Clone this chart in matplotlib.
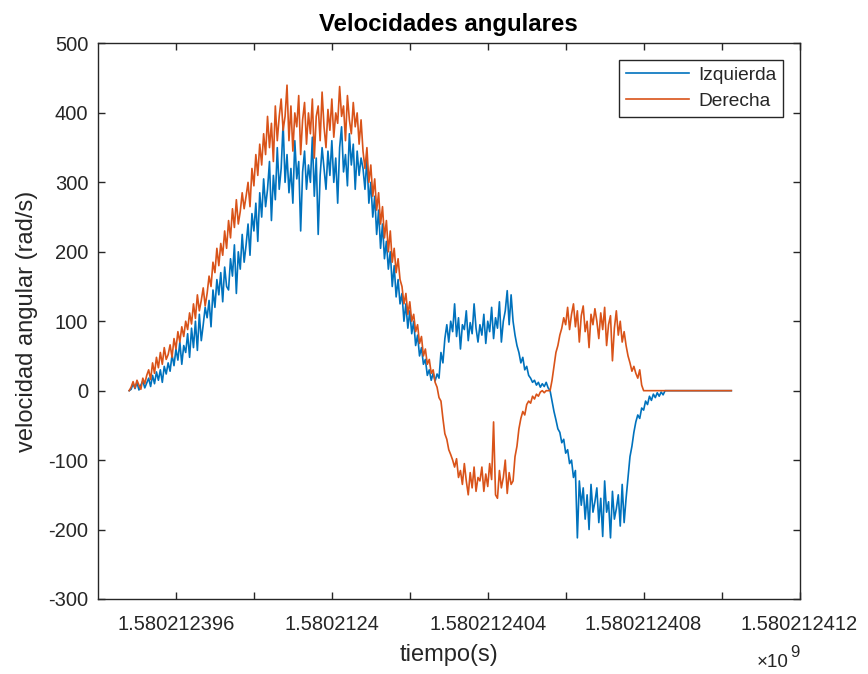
import numpy as np
import matplotlib.pyplot as plt

plt.rcParams['font.family'] = ['Liberation Sans', 'DejaVu Sans']
plt.rcParams['axes.unicode_minus'] = False

# muestras a 20 Hz desde el instante inicial (segundos unix)
t_inicio = 1580212394.80
dt = 0.05

# velocidad angular rueda izquierda (rad/s), 20 muestras por fila
izquierda = [
    0, 2, 10, 3, 12, 1, 8, 14, 4, 11, 18, 6, 22, 10, 27, 15, 30, 12, 35, 24,
    40, 28, 52, 36, 60, 44, 70, 38, 65, 55, 82, 48, 90, 62, 100, 58, 110, 72, 95, 120,
    105, 130, 92, 145, 120, 160, 138, 170, 128, 178, 150, 145, 190, 165, 210, 140, 200, 175, 225, 185,
    210, 240, 195, 255, 230, 270, 215, 285, 250, 305, 265, 290, 330, 245, 310, 275, 350, 290, 320, 385,
    300, 340, 285, 320, 270, 360, 305, 330, 230, 315, 345, 290, 325, 300, 365, 280, 335, 225, 310, 350,
    320, 290, 345, 310, 360, 300, 335, 270, 350, 380, 315, 340, 295, 370, 325, 355, 290, 345, 310, 335,
    320, 290, 335, 270, 300, 250, 280, 225, 260, 205, 240, 190, 215, 175, 200, 150, 180, 135, 160, 125,
    140, 100, 125, 90, 115, 82, 100, 65, 80, 50, 62, 38, 45, 22, 30, 15, 25, 14, 24, 18,
    55, 40, 75, 95, 70, 100, 85, 125, 78, 105, 60, 95, 88, 115, 72, 98, 82, 125, 90, 70,
    95, 80, 110, 68, 100, 85, 120, 75, 105, 90, 128, 70, 100, 115, 144, 95, 138, 100, 80, 65,
    55, 40, 48, 30, 35, 22, 18, 12, 15, 8, 12, 5, 10, 6, 12, 4, 0, -15, -30, -42,
    -55, -60, -75, -70, -90, -85, -105, -100, -125, -115, -212, -130, -165, -140, -185, -150, -200, -135, -175, -160,
    -140, -190, -155, -210, -130, -175, -160, -212, -145, -185, -170, -150, -195, -135, -190, -155, -125, -95, -80, -60,
    -45, -35, -40, -25, -28, -15, -20, -8, -14, -5, -10, -3, -8, -2, -6, 0, 0, 0, 0, 0,
    0, 0, 0, 0, 0, 0, 0, 0, 0, 0, 0, 0, 0, 0, 0, 0, 0, 0, 0, 0,
    0, 0, 0, 0, 0, 0, 0, 0, 0, 0,
]

# velocidad angular rueda derecha (rad/s)
derecha = [
    0, 5, 13, 4, 15, 8, 2, 18, 10, 22, 30, 16, 40, 25, 48, 33, 55, 38, 62, 45,
    52, 66, 48, 75, 60, 85, 70, 92, 78, 100, 88, 112, 96, 125, 104, 138, 115, 130, 148, 122,
    140, 165, 150, 185, 170, 205, 180, 212, 195, 230, 205, 245, 220, 262, 235, 275, 240, 258, 285, 262,
    280, 300, 265, 320, 295, 340, 310, 355, 325, 370, 340, 395, 350, 385, 330, 410, 360, 395, 420, 375,
    395, 440, 360, 410, 345, 400, 380, 425, 340, 390, 415, 355, 400, 370, 420, 335, 395, 410, 360, 430,
    380, 350, 405, 375, 420, 365, 400, 385, 438, 395, 410, 360, 425, 390, 370, 415, 380, 400, 355, 390,
    345, 320, 350, 300, 325, 280, 305, 260, 285, 240, 265, 220, 245, 200, 230, 185, 205, 170, 190, 160,
    150, 125, 140, 110, 128, 100, 110, 85, 95, 68, 78, 50, 60, 38, 45, 25, 30, 12, 5, -10,
    -15, -40, -62, -70, -85, -92, -100, -110, -98, -125, -115, -135, -105, -130, -150, -118, -140, -110, -145, -125,
    -130, -110, -145, -120, -138, -105, -128, -45, -150, -155, -115, -140, -125, -100, -148, -118, -135, -130, -95, -80,
    -55, -40, -30, -35, -20, -15, -18, -8, -12, -5, -8, -2, 0, -3, 0, 0, 0, 15, 35, 55,
    65, 80, 90, 105, 95, 120, 88, 110, 125, 92, 115, 70, 108, 122, 85, 100, 62, 110, 95, 118,
    100, 75, 112, 88, 120, 65, 95, 108, 43, 90, 115, 80, 100, 70, 85, 65, 50, 40, 28, 35,
    25, 18, 30, 8, 0, 0, 0, 0, 0, 0, 0, 0, 0, 0, 0, 0, 0, 0, 0, 0,
    0, 0, 0, 0, 0, 0, 0, 0, 0, 0, 0, 0, 0, 0, 0, 0, 0, 0, 0, 0,
    0, 0, 0, 0, 0, 0, 0, 0, 0, 0,
]

xticks = [1580212396, 1580212398, 1580212400, 1580212402, 1580212404,
          1580212406, 1580212408, 1580212410, 1580212412]
xtick_labels = ['1.580212396', '', '1.5802124', '', '1.580212404',
                '', '1.580212408', '', '1.580212412']
yticks = [-300, -200, -100, 0, 100, 200, 300, 400, 500]

t = t_inicio + dt * np.arange(len(izquierda))

fig = plt.figure(figsize=(8.68, 6.74), dpi=100)
ax = fig.add_axes([0.1129, 0.1113, 0.8082, 0.8242])

ax.plot(t, izquierda, color='#0072BD', lw=1.2, label='Izquierda')
ax.plot(t, derecha, color='#D95319', lw=1.2, label='Derecha')

ax.set_xlim(1580212394, 1580212412)
ax.set_ylim(-300, 500)
ax.set_xticks(xticks)
ax.set_xticklabels(xtick_labels)
ax.set_yticks(yticks)

gris = '#262626'
for s in ax.spines.values():
    s.set_color(gris)
    s.set_linewidth(1.0)
ax.tick_params(direction='in', length=5, width=1.0, colors=gris, labelsize=14.5,
               top=True, right=True)
ax.tick_params(axis='x', pad=11.5)
ax.tick_params(axis='y', pad=7)

ax.set_title('Velocidades angulares', fontsize=17.3, fontweight='bold', pad=9)
ax.set_xlabel('tiempo(s)', fontsize=17, color=gris, labelpad=7)
ax.set_ylabel('velocidad angular (rad/s)', fontsize=17, color=gris)
ax.yaxis.set_label_coords(-0.086, 0.5)

# factor de escala del eje x
fig.text(789 / 868, 7 / 674, '\u00d710', ha='right', va='baseline', fontsize=13.5, color=gris)
fig.text(790 / 868, 17 / 674, '9', ha='left', va='baseline', fontsize=12, color=gris)

leg = ax.legend(loc='upper right', bbox_to_anchor=(0.9765, 0.9703), borderaxespad=0,
                fontsize=13.8, handlelength=3.3, handletextpad=0.45, labelspacing=0.45,
                borderpad=0.35, fancybox=False, framealpha=1)
leg.get_frame().set_edgecolor(gris)
leg.get_frame().set_linewidth(1.0)
for txt in leg.get_texts():
    txt.set_color(gris)

plt.savefig('out.png', dpi=100)
